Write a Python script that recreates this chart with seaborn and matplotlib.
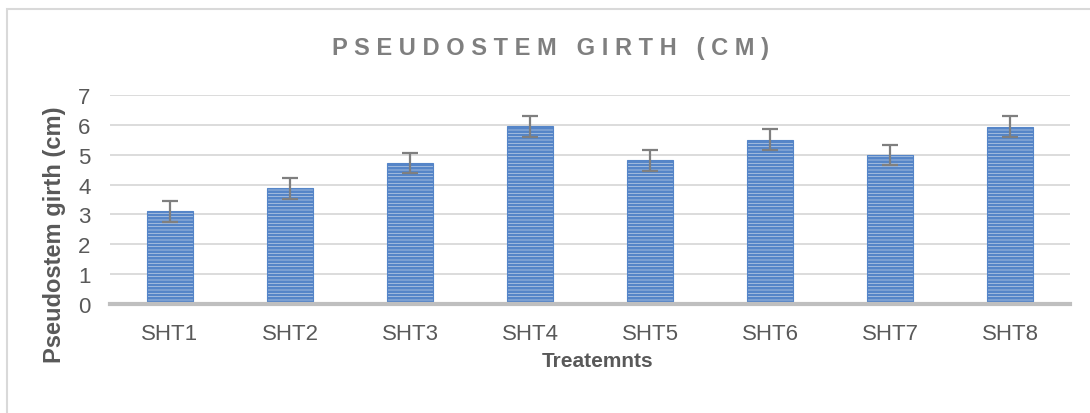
import pandas as pd
import matplotlib.pyplot as plt
import matplotlib.patches as mpatches
import seaborn as sns

treatments = ['SHT1', 'SHT2', 'SHT3', 'SHT4', 'SHT5', 'SHT6', 'SHT7', 'SHT8']
girth = [3.11, 3.88, 4.72, 5.95, 4.81, 5.50, 4.99, 5.94]
girth_err = [0.35, 0.35, 0.34, 0.35, 0.35, 0.35, 0.35, 0.35]
y_ticks = [0, 1, 2, 3, 4, 5, 6, 7]

df = pd.DataFrame({'treatment': treatments, 'girth': girth, 'err': girth_err})

sns.set_style('white')
plt.rcParams['font.family'] = ['Liberation Sans', 'DejaVu Sans']
plt.rcParams['hatch.linewidth'] = 1.9

fig = plt.figure(figsize=(10.9, 4.14), dpi=100)
ax = fig.add_axes([110 / 1090, 109 / 414, 960 / 1090, 209 / 414])

sns.barplot(x='treatment', y='girth', data=df, ax=ax, color='#bcd0ec',
            width=0.38, errorbar=None, edgecolor='#5585c8', linewidth=0.8,
            hatch='-----', zorder=3)

ax.errorbar(x=range(len(df)), y=df['girth'], yerr=df['err'], fmt='none',
            ecolor='#7f7f7f', elinewidth=1.6, capsize=6, capthick=1.6, zorder=4)

ax.set_xlim(-0.5, len(df) - 0.5)
ax.set_ylim(0, 7)
ax.set_yticks(y_ticks)
ax.yaxis.grid(True, color='#d9d9d9', linewidth=1.3, zorder=0)
ax.xaxis.grid(False)
for s in ['top', 'right', 'left']:
    ax.spines[s].set_visible(False)
ax.spines['bottom'].set_color('#bfbfbf')
ax.spines['bottom'].set_linewidth(3)
ax.spines['bottom'].set_zorder(5)

ax.tick_params(axis='y', length=0, pad=14, labelsize=16, labelcolor='#595959')
ax.tick_params(axis='x', length=0, pad=14, labelsize=16, labelcolor='#595959')
ax.set_xlabel('')
ax.set_ylabel('')

fig.text(598 / 1090, 1 - 362 / 414, 'Treatemnts', fontsize=15, fontweight='bold',
         color='#595959', ha='center', va='center')
fig.text(55 / 1090, 1 - 235 / 414, 'Pseudostem girth (cm)', fontsize=17,
         fontweight='bold', color='#595959', ha='center', va='center', rotation=90)
fig.text(550 / 1090, 1 - 48 / 414, 'P S E U D O S T E M   G I R T H   ( C M )',
         fontsize=17, fontweight='bold', color='#7f7f7f', ha='center', va='center')

# chart frame
fig.patches.append(mpatches.Rectangle((7 / 1090, -0.05), 1.1, 1 - 10 / 414 + 0.05,
                                      transform=fig.transFigure, fill=False,
                                      edgecolor='#d9d9d9', linewidth=1.5))

fig.savefig('out.png', dpi=100, facecolor='white')
